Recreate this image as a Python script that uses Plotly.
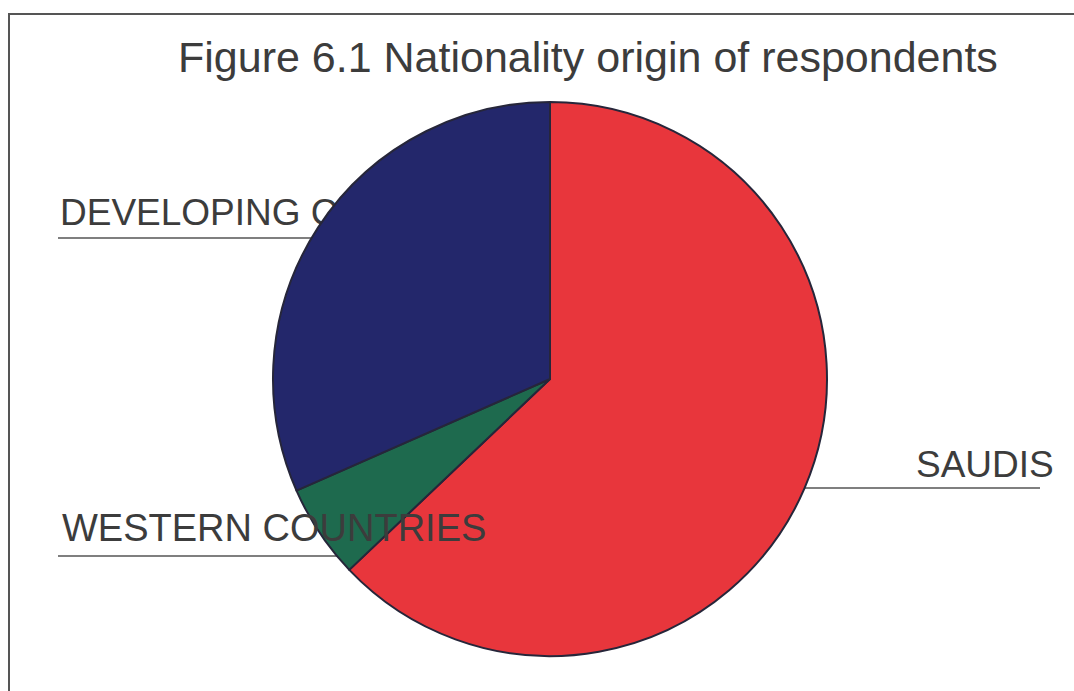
import plotly.graph_objects as go

# Share of respondents by nationality origin (%)
groups = ["SAUDIS", "WESTERN COUNTRIES", "DEVELOPING COUNTRIES"]
shares = [62.9, 5.5, 31.6]
colors = ["#E8363C", "#1E6A4E", "#23276B"]

W, H = 1074, 691
FONT = "Liberation Sans, Arial, sans-serif"
INK = "#3c3c3c"


def px(x):
    return x / W


def py(y):
    return 1 - y / H


fig = go.Figure()

# Label that sits behind the pie (the pie layer draws over cartesian traces)
fig.add_trace(go.Scatter(
    x=[60], y=[216], mode="text", text=[groups[2]],
    textposition="middle right",
    textfont=dict(family=FONT, size=37, color=INK),
    hoverinfo="skip", showlegend=False,
))

fig.add_trace(go.Pie(
    labels=groups, values=shares, sort=False, direction="clockwise",
    rotation=0, textinfo="none", hoverinfo="label+percent",
    marker=dict(colors=colors, line=dict(color="#26263a", width=2)),
    domain=dict(x=[px(273), px(827)], y=[py(657), py(101)]),
    showlegend=False,
))

shapes = [
    # outer frame
    dict(type="rect", xref="paper", yref="paper", x0=px(9), x1=px(1082),
         y0=py(700), y1=py(14), line=dict(color="#555555", width=2),
         layer="below"),
    # label underlines
    dict(type="line", xref="paper", yref="paper", x0=px(58), x1=px(420),
         y0=py(238), y1=py(238), line=dict(color="#555555", width=1.5),
         layer="below"),
    dict(type="line", xref="paper", yref="paper", x0=px(58), x1=px(420),
         y0=py(556), y1=py(556), line=dict(color="#555555", width=1.5),
         layer="below"),
    dict(type="line", xref="paper", yref="paper", x0=px(700), x1=px(1040),
         y0=py(488), y1=py(488), line=dict(color="#555555", width=1.5),
         layer="below"),
]

annotations = [
    dict(text="Figure 6.1 Nationality origin of respondents",
         xref="paper", yref="paper", x=px(588), y=py(57),
         xanchor="center", yanchor="middle", showarrow=False,
         font=dict(family=FONT, size=43, color=INK)),
    dict(text=groups[0], xref="paper", yref="paper", x=px(914), y=py(464),
         xanchor="left", yanchor="middle", showarrow=False,
         font=dict(family=FONT, size=37, color=INK)),
    dict(text=groups[1], xref="paper", yref="paper", x=px(60), y=py(528),
         xanchor="left", yanchor="middle", showarrow=False,
         font=dict(family=FONT, size=38, color=INK)),
]

fig.update_layout(
    width=W, height=H, margin=dict(l=0, r=0, t=0, b=0),
    paper_bgcolor="white", plot_bgcolor="rgba(0,0,0,0)",
    xaxis=dict(range=[0, W], visible=False, domain=[0, 1], fixedrange=True),
    yaxis=dict(range=[H, 0], visible=False, domain=[0, 1], fixedrange=True),
    shapes=shapes, annotations=annotations,
)

fig.write_html("out.html")
